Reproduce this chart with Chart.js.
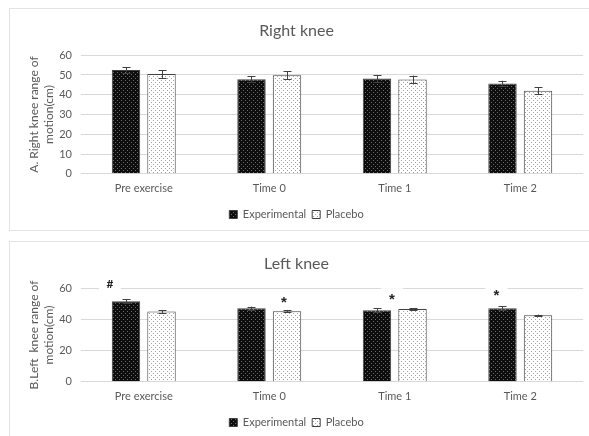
<!DOCTYPE html>
<html>
<head>
<meta charset="utf-8">
<script src="https://cdn.jsdelivr.net/npm/chart.js@4.4.1/dist/chart.umd.min.js"></script>
<style>
	body { margin: 0; background: #fff; overflow: hidden; }
	.box { position: absolute; left: 9px; width: 600px; border: 1px solid #e3e3e3; box-sizing: border-box; background: #fff; }
	.box div { position: absolute; left: 0; top: 0; width: 584px; }
</style>
</head>
<body>
<div class="box" style="top:8px; height:223px;"><div style="height:221px;"><canvas id="rightChart"></canvas></div></div>
<div class="box" style="top:241px; height:200px;"><div style="height:196px;"><canvas id="leftChart"></canvas></div></div>
<script>
// categories and series
const categories = ["Pre exercise", "Time 0", "Time 1", "Time 2"];
const seriesNames = ["Experimental", "Placebo"];

// right knee (cm)
const rightExp = [52.5, 47.8, 48.2, 45.7];
const rightExpErr = [1.3, 1.5, 1.8, 1.4];
const rightPla = [50.5, 49.8, 47.7, 42.0];
const rightPlaErr = [2.0, 2.0, 2.0, 1.7];

// left knee (cm)
const leftExp = [51.7, 47.2, 45.9, 47.2];
const leftExpErr = [1.2, 1.0, 1.2, 1.2];
const leftPla = [45.0, 45.3, 46.6, 42.7];
const leftPlaErr = [0.8, 0.8, 0.5, 0.4];

// significance marks on the left knee chart: [series, category, text]
const leftMarks = [[0, 0, "#"], [1, 1, "*"], [0, 2, "*"], [0, 3, "*"]];
// where each mark box sits relative to its bar top (px), kept apart from data
const leftMarkOffsets = [[-16, -17], [-3, -11], [15, -13], [-6, -15]];

function makePattern(bg, dot) {
	let c = document.createElement("canvas");
	c.width = 4;
	c.height = 4;
	let g = c.getContext("2d");
	g.fillStyle = bg;
	g.fillRect(0, 0, 4, 4);
	g.fillStyle = dot;
	g.fillRect(1, 1, 1, 1);
	g.fillRect(3, 3, 1, 1);
	return g.createPattern(c, "repeat");
}

const expFill = makePattern("#0d0d0d", "#6e6e6e");
const plaFill = makePattern("#ffffff", "#a0a0a0");

const errorBars = {
	id: "errorBars",
	afterDatasetsDraw(chart) {
		let ctx = chart.ctx;
		let y = chart.scales.y;
		ctx.save();
		ctx.strokeStyle = "#404040";
		ctx.lineWidth = 1;
		chart.data.datasets.forEach((ds, di) => {
			let meta = chart.getDatasetMeta(di);
			meta.data.forEach((bar, i) => {
				let v = ds.data[i], e = ds.errors[i];
				let top = y.getPixelForValue(v + e), bot = y.getPixelForValue(v - e);
				let x = Math.round(bar.x) + 0.5;
				ctx.beginPath();
				ctx.moveTo(x, top); ctx.lineTo(x, bot);
				ctx.moveTo(x - 4, Math.round(top) + 0.5); ctx.lineTo(x + 4, Math.round(top) + 0.5);
				ctx.moveTo(x - 4, Math.round(bot) + 0.5); ctx.lineTo(x + 4, Math.round(bot) + 0.5);
				ctx.stroke();
			});
		});
		ctx.restore();
	}
};

const marks = {
	id: "marks",
	afterDatasetsDraw(chart, args, opts) {
		if(!opts.list)
			return;
		let ctx = chart.ctx;
		ctx.save();
		ctx.textAlign = "center";
		ctx.textBaseline = "middle";
		opts.list.forEach((m, k) => {
			let bar = chart.getDatasetMeta(m[0]).data[m[1]];
			let off = opts.offsets[k];
			let x = bar.x + off[0], y = bar.y + off[1];
			ctx.fillStyle = "#fff";
			ctx.fillRect(x - 11, y - 9, 22, 18);
			ctx.fillStyle = "#262626";
			if(m[2] == "*") {
				ctx.font = "bold 15px 'Liberation Sans'";
				ctx.fillText(m[2], x, y + 3);
			} else {
				ctx.font = "bold 12px Lato";
				ctx.fillText(m[2], x, y);
			}
		});
		ctx.restore();
	}
};

function makeChart(id, title, axisTitle, exp, expErr, pla, plaErr, step, markList, markOffsets) {
	return new Chart(document.getElementById(id), {
		type: "bar",
		data: {
			labels: categories,
			datasets: [
				{ label: seriesNames[0], data: exp, errors: expErr, backgroundColor: expFill, borderColor: "#404040", borderWidth: 1 },
				{ label: seriesNames[1], data: pla, errors: plaErr, backgroundColor: plaFill, borderColor: "#404040", borderWidth: 1 }
			]
		},
		options: {
			responsive: true,
			maintainAspectRatio: false,
			animation: false,
			layout: { padding: { left: 0, right: 11, top: 0, bottom: 0 } },
			datasets: { bar: { categoryPercentage: 0.566, barPercentage: 0.8 } },
			plugins: {
				title: { display: true, text: title, color: "#595959", font: { family: "Lato", size: 16, weight: "normal" }, padding: { top: 12, bottom: 15 } },
				legend: {
					position: "bottom",
					labels: { boxWidth: 8, boxHeight: 8, color: "#595959", font: { family: "Lato", size: 11 }, padding: 6 }
				},
				tooltip: { enabled: false },
				marks: { list: markList, offsets: markOffsets }
			},
			scales: {
				x: {
					grid: { display: false, drawTicks: false },
					border: { display: false },
					ticks: { color: "#595959", font: { family: "Lato", size: 11 }, padding: 8 }
				},
				y: {
					min: 0,
					max: 60,
					ticks: { stepSize: step, color: "#595959", font: { family: "Lato", size: 11 }, padding: 9 },
					grid: { color: "#d9d9d9", drawTicks: false },
					border: { display: false },
					title: { display: true, text: axisTitle, color: "#595959", font: { family: "Lato", size: 12, lineHeight: 1.3 }, padding: { top: 16, bottom: 0 } },
					afterFit: (scale) => { scale.width = 71; }
				}
			}
		},
		plugins: [errorBars, marks]
	});
}

makeChart("rightChart", "Right knee", ["A. Right knee range of", "motion(cm)"], rightExp, rightExpErr, rightPla, rightPlaErr, 10, null, null);
makeChart("leftChart", "Left knee", ["B.Left  knee range of", "motion(cm)"], leftExp, leftExpErr, leftPla, leftPlaErr, 20, leftMarks, leftMarkOffsets);
</script>
</body>
</html>
